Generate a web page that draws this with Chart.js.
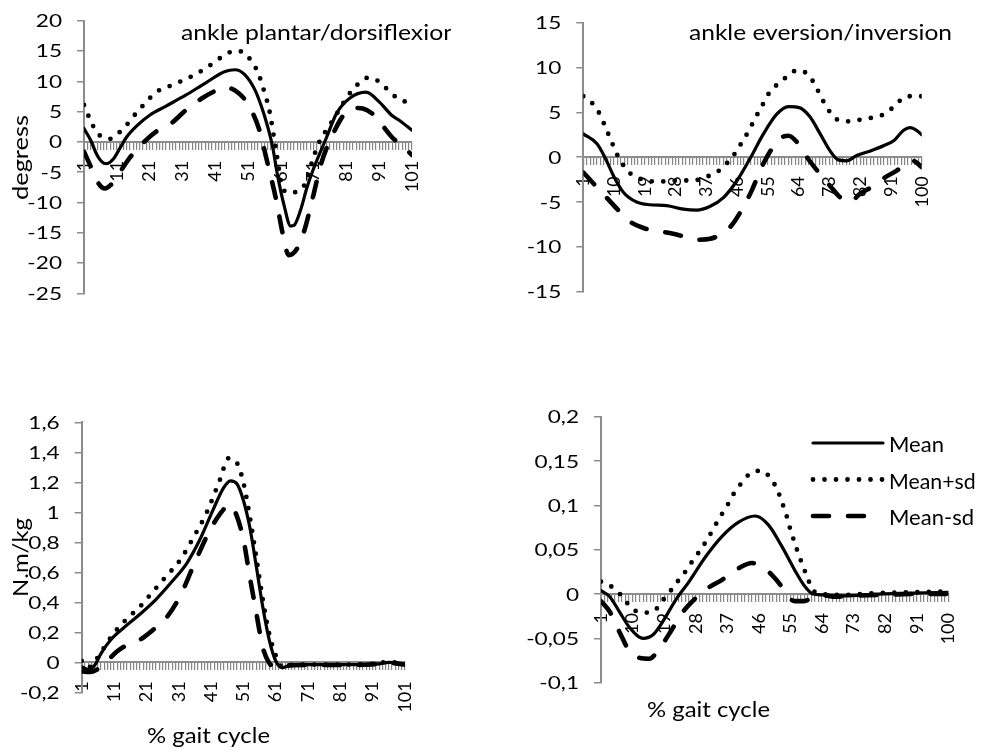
<!DOCTYPE html>
<html>
<head>
<meta charset="utf-8">
<script src="https://cdn.jsdelivr.net/npm/chart.js@4.4.1/dist/chart.umd.min.js"></script>
<style>
  html, body { margin: 0; padding: 0; background: #fff; }
  #stage { position: relative; width: 982px; height: 749px; overflow: hidden; background: #fff; }
  #stage canvas { position: absolute; }
</style>
</head>
<body>
<div id="stage">
  <canvas id="sagAngle" width="451" height="310" style="left:0px;top:0px;width:451px;height:310px"></canvas>
  <canvas id="frontAngle" width="527" height="310" style="left:455px;top:0px;width:527px;height:310px"></canvas>
  <canvas id="sagMoment" width="455" height="349" style="left:0px;top:400px;width:455px;height:349px"></canvas>
  <canvas id="frontMoment" width="527" height="354" style="left:455px;top:395px;width:527px;height:354px"></canvas>
</div>
<script>
// ---------------- data: [% gait cycle, value] ----------------
const SERIES_NAMES = ['Mean', 'Mean+sd', 'Mean-sd'];

const GAIT_LABELS_101 = [1, 11, 21, 31, 41, 51, 61, 71, 81, 91, 101];
const GAIT_LABELS_100 = [1, 10, 19, 28, 37, 46, 55, 64, 73, 82, 91, 100];

const SAG_ANGLE_TICKS = [-25, -20, -15, -10, -5, 0, 5, 10, 15, 20];
const FRONT_ANGLE_TICKS = [-15, -10, -5, 0, 5, 10, 15];
const SAG_MOMENT_TICKS = [-0.2, 0, 0.2, 0.4, 0.6, 0.8, 1, 1.2, 1.4, 1.6];
const FRONT_MOMENT_TICKS = [-0.1, -0.05, 0, 0.05, 0.1, 0.15, 0.2];

// ankle plantar/dorsiflexion (degrees)
const sagAngleMean = [[1,2.2],[3,0.3],[5,-2.2],[7,-3.5],[8,-3.6],[10,-2.8],[12,-1.0],[14,0.8],[17,2.6],[21,4.4],[26,5.9],[32,7.7],[38,9.7],[44,11.6],[47,11.9],[50,11.1],[53,8.7],[55,6.0],[57,2.5],[58.5,-0.8],[60,-5.5],[62,-10.5],[64,-13.9],[65,-13.8],[67,-11.3],[69,-7.5],[71,-4.4],[75,0.8],[78,4.7],[82,7.2],[87,8.2],[91,6.6],[95,4.3],[97,3.6],[101,1.9]];
const sagAnglePlusSd = [[1,6.1],[3,3.5],[5,1.5],[7,0.7],[9,0.5],[11,1.2],[14,2.8],[17,4.8],[19,6.0],[23,8.2],[28,9.4],[33,10.6],[38,12.1],[43,14.0],[47,15.0],[50,14.7],[52,13.3],[54,11.5],[56,8.2],[57.5,5.2],[59.5,-1.2],[61.5,-7.5],[63.5,-8.4],[66,-8.2],[68.4,-6.9],[71,-2.5],[73,0.3],[75,2.0],[78.5,5.0],[80.6,6.9],[82.6,8.4],[85,9.75],[87.7,10.6],[90.2,10.2],[92.3,9.3],[94.3,8.2],[96.6,7.2],[99.2,6.6],[101,6.4]];
const sagAngleMinusSd = [[1,-1.6],[3,-4.0],[5,-6.5],[7.4,-7.7],[9,-7.2],[11.7,-5.2],[14.7,-2.8],[18.8,-0.3],[23,1.7],[27,2.8],[32,5.2],[37,7.2],[41,8.4],[44,9.0],[48,8.1],[51,6.2],[54.5,1.9],[56.5,-2.5],[59.6,-9.6],[61.6,-15.2],[63.4,-18.7],[66,-17.6],[68.2,-14.6],[70.8,-9.1],[73.3,-3.6],[77,1.4],[81,5.0],[84,5.6],[86,5.5],[89,4.6],[92,2.7],[95,0.7],[98,-0.6],[101,-2.2]];

// ankle eversion/inversion (degrees)
const frontAngleMean = [[1,2.6],[5,1.5],[7.3,0],[10,-2.2],[12.7,-3.9],[16.6,-5.0],[20.5,-5.3],[25.4,-5.4],[30.3,-5.8],[34.2,-5.9],[38,-5.5],[42,-4.5],[46,-2.6],[50,0],[53.7,2.6],[57.6,4.8],[61,5.65],[64.4,5.5],[67.3,4.5],[70.3,2.6],[73.2,0.7],[75.6,-0.3],[78,-0.4],[81,0.2],[85,0.7],[89,1.3],[92,1.9],[94.7,3.0],[96.6,3.3],[98.5,3.0],[100,2.5]];
const frontAnglePlusSd = [[1,6.8],[3.9,5.9],[6.1,4.6],[7.5,3.3],[9,2.0],[10.5,0.6],[12.2,-0.6],[14.7,-1.8],[18.4,-2.5],[22,-2.7],[25.4,-2.7],[29.3,-2.6],[33,-2.6],[36.9,-2.2],[40.3,-1.6],[43.2,-0.6],[45.6,0.55],[47.6,1.8],[49.5,3.0],[51.2,4.3],[53.2,5.65],[54.9,6.9],[57.4,8.0],[60.3,8.9],[63.6,9.7],[66.8,9.2],[69,7.9],[70.7,6.6],[72.5,5.4],[74.8,4.3],[78.6,4.0],[82.3,4.2],[85.9,4.45],[89.6,4.9],[92.5,5.9],[95.6,6.8],[100,6.8]];
const frontAngleMinusSd = [[1,-1.7],[3.9,-2.9],[7.8,-4.5],[11.7,-6.1],[14.7,-7.2],[18.6,-7.9],[22.5,-8.2],[27.3,-8.55],[31.2,-8.9],[34.7,-9.2],[38.1,-9.1],[41.5,-8.55],[44.4,-7.6],[47.3,-5.9],[50.3,-3.7],[53.2,-1.1],[56.1,0.9],[59,2.2],[61,2.4],[63.9,1.5],[66.8,-0.2],[70.3,-1.9],[73.2,-3.2],[76.2,-4.5],[79,-5.0],[81.9,-4.1],[85.9,-3.2],[89.5,-2.2],[92.7,-1.5],[95.6,-0.6],[97.4,-0.4],[100,-1.1]];

// sagittal ankle moment (N.m/kg)
const sagMomentMean = [[1,-0.03],[3,-0.047],[5,-0.02],[7,0.06],[10,0.15],[14,0.23],[19,0.32],[24,0.42],[29,0.54],[33.5,0.66],[37.6,0.82],[41.7,1.02],[44.8,1.16],[47,1.21],[49,1.19],[51,1.08],[53,0.9],[55,0.64],[57,0.37],[59,0.15],[61,0.01],[63,-0.035],[65,-0.025],[70,-0.015],[80,-0.015],[90,-0.015],[93,-0.01],[96,0.0],[99,-0.005],[101,-0.015]];
const sagMomentPlusSd = [[1,0.01],[3,-0.035],[5,0.005],[7.7,0.09],[10.8,0.19],[15,0.29],[19,0.37],[23,0.47],[27,0.57],[31.4,0.68],[35.5,0.83],[39.7,1.0],[43.8,1.22],[46.4,1.36],[49,1.33],[51,1.2],[53,0.97],[55,0.7],[57,0.42],[59,0.19],[61.5,0.02],[63,-0.03],[65,-0.02],[70,-0.015],[80,-0.015],[90,-0.012],[96,0.002],[101,-0.012]];
const sagMomentMinusSd = [[1,-0.06],[3.6,-0.065],[5.6,-0.05],[8.7,0.005],[11.8,0.07],[15,0.115],[19,0.15],[23,0.215],[27.3,0.3],[31.4,0.44],[35.5,0.64],[39.7,0.84],[43.8,0.99],[46.9,1.05],[48.9,0.98],[51,0.82],[53,0.57],[55,0.33],[57,0.1],[59,-0.005],[61,-0.03],[63,-0.03],[65,-0.02],[70,-0.018],[80,-0.018],[90,-0.015],[96,-0.005],[101,-0.015]];

// frontal ankle moment (N.m/kg)
const frontMomentMean = [[1,0.004],[3.5,-0.003],[6.4,-0.021],[9.2,-0.038],[13,-0.05],[15.8,-0.046],[18.6,-0.031],[22.4,-0.006],[26.1,0.014],[30.8,0.042],[35.5,0.065],[40.2,0.081],[44.9,0.088],[48.7,0.078],[52.5,0.054],[56.2,0.027],[59,0.009],[61.4,0.0],[64,-0.001],[70,-0.002],[80,0.0],[90,0.001],[100,0.002]];
const frontMomentPlusSd = [[1,0.014],[4.5,0.007],[7.1,-0.003],[9.5,-0.015],[12.5,-0.021],[15.8,-0.02],[18.4,-0.008],[20.7,0.003],[22.8,0.014],[25.2,0.026],[27.2,0.038],[29.4,0.05],[31.5,0.063],[33.2,0.075],[35.1,0.088],[37,0.1],[38.8,0.113],[41,0.125],[43.5,0.136],[46.8,0.139],[49.6,0.129],[51.3,0.117],[52.7,0.102],[53.9,0.088],[54.8,0.075],[56,0.06],[57.2,0.046],[58.6,0.031],[59.8,0.019],[61.1,0.006],[63.7,0.0],[70,-0.001],[80,0.001],[90,0.002],[100,0.003]];
const frontMomentMinusSd = [[1,-0.008],[3.5,-0.02],[6.4,-0.044],[9.2,-0.065],[12,-0.072],[14.8,-0.073],[17.7,-0.061],[20.9,-0.042],[23.8,-0.023],[27.1,-0.008],[30.8,0.005],[35.5,0.016],[40.2,0.029],[44,0.035],[46.8,0.031],[49.6,0.022],[52,0.011],[54.3,-0.003],[56.2,-0.008],[58.6,-0.008],[61,-0.005],[63.7,-0.001],[67.5,-0.003],[73,-0.002],[80,-0.001],[90,0.0],[100,0.0]];

// ---------------- styling ----------------
const FONT = 'Lato';
const AXIS_GREY = '#8c8c8c';
const TICK_GREY = '#858585';

const LINE_STYLES = [
  { borderWidth: 3.2, borderDash: [] },
  { borderWidth: 4.8, borderDash: [0, 11.5] },
  { borderWidth: 4.6, borderDash: [16, 19] }
];

const fmt = v => String(v).replace('.', ',');

// text drawn with a horizontal stretch (either a fixed factor or a target width)
function wideText(ctx, str, x, y, o) {
  ctx.save();
  ctx.font = o.font;
  ctx.fillStyle = '#000';
  ctx.textAlign = o.align || 'left';
  ctx.textBaseline = o.baseline || 'alphabetic';
  ctx.translate(x, y);
  if (o.rotate) ctx.rotate(o.rotate);
  let sx = o.stretch || 1;
  if (o.width) sx = o.width / ctx.measureText(str).width;
  ctx.scale(sx, 1);
  ctx.fillText(str, 0, 0);
  ctx.restore();
}

// value labels of the vertical axis + free text items + optional line key
function panelDecor(cfg) {
  return {
    id: 'panelDecor',
    afterDraw(chart) {
      const ctx = chart.ctx;
      const ys = chart.scales.y;
      cfg.yTicks.forEach(v => {
        wideText(ctx, fmt(v), ys.right - 22, ys.getPixelForValue(v) + 1,
          { font: '17px ' + FONT, align: 'right', baseline: 'middle', stretch: 1.33 });
      });
      cfg.texts.forEach(t => wideText(ctx, t.text, t.x, t.y, t));
      if (cfg.key) {
        const k = cfg.key;
        chart.data.datasets.forEach((ds, i) => {
          const yy = k.y + i * k.dy;
          ctx.save();
          ctx.strokeStyle = ds.borderColor;
          ctx.lineWidth = ds.borderWidth;
          ctx.lineCap = 'round';
          ctx.setLineDash(ds.borderDash);
          ctx.beginPath();
          ctx.moveTo(k.x, yy);
          ctx.lineTo(k.x + k.len, yy);
          ctx.stroke();
          ctx.restore();
          wideText(ctx, ds.label, k.x + k.len + 6, yy + 9,
            { font: '21px ' + FONT, width: k.widths[i] });
        });
      }
    }
  };
}

function makePanel(id, g, spec) {
  return new Chart(document.getElementById(id), {
    type: 'line',
    data: {
      datasets: spec.series.map((pts, i) => ({
        label: SERIES_NAMES[i],
        data: pts.map(([x, y]) => ({ x, y })),
        borderColor: '#000',
        borderWidth: LINE_STYLES[i].borderWidth,
        borderDash: LINE_STYLES[i].borderDash,
        borderCapStyle: 'round',
        borderJoinStyle: 'round',
        pointRadius: 0,
        fill: false,
        cubicInterpolationMode: 'monotone'
      }))
    },
    options: {
      responsive: false,
      animation: false,
      devicePixelRatio: 1,
      events: [],
      layout: { padding: { left: 0, top: g.top, right: g.right, bottom: g.bottom } },
      plugins: { legend: { display: false }, tooltip: { enabled: false } },
      scales: {
        x: {
          type: 'linear',
          position: { y: 0 },
          min: 1,
          max: spec.xLabels[spec.xLabels.length - 1],
          ticks: {
            stepSize: 1,
            autoSkip: false,
            minRotation: 90,
            maxRotation: 90,
            padding: 12,
            color: '#000',
            font: { family: FONT, size: 18 },
            callback: v => (spec.xLabels.includes(v) ? String(v) : '')
          },
          grid: { drawOnChartArea: false, tickLength: 7, color: TICK_GREY, lineWidth: 1.2 },
          border: { color: AXIS_GREY, width: 2 }
        },
        y: {
          type: 'linear',
          min: spec.yTicks[0],
          max: spec.yTicks[spec.yTicks.length - 1],
          afterFit: s => { s.width = g.axisX; },
          ticks: {
            stepSize: spec.yTicks[1] - spec.yTicks[0],
            color: 'rgba(0,0,0,0)',
            font: { family: FONT, size: 17 }
          },
          grid: { drawOnChartArea: false, tickLength: 7, color: AXIS_GREY, lineWidth: 1.5 },
          border: { color: AXIS_GREY, width: 2 }
        }
      }
    },
    plugins: [panelDecor({ yTicks: spec.yTicks, texts: spec.texts, key: spec.key })]
  });
}

const ROT = -Math.PI / 2;

makePanel('sagAngle',
  { axisX: 84, top: 20.7, right: 39, bottom: 16.7 },
  {
    series: [sagAngleMean, sagAnglePlusSd, sagAngleMinusSd],
    xLabels: GAIT_LABELS_101,
    yTicks: SAG_ANGLE_TICKS,
    texts: [
      { text: 'ankle plantar/dorsiflexion', x: 181, y: 40, font: '21px ' + FONT, width: 276 },
      { text: 'degress', x: 28, y: 157.5, rotate: ROT, align: 'center', font: '21px ' + FONT, width: 85 }
    ]
  });

makePanel('frontAngle',
  { axisX: 128.3, top: 22.7, right: 60.3, bottom: 18.3 },
  {
    series: [frontAngleMean, frontAnglePlusSd, frontAngleMinusSd],
    xLabels: GAIT_LABELS_100,
    yTicks: FRONT_ANGLE_TICKS,
    texts: [
      { text: 'ankle eversion/inversion', x: 234, y: 40, font: '21px ' + FONT, width: 263 }
    ]
  });

makePanel('sagMoment',
  { axisX: 81.7, top: 22.3, right: 50, bottom: 56.7 },
  {
    series: [sagMomentMean, sagMomentPlusSd, sagMomentMinusSd],
    xLabels: GAIT_LABELS_101,
    yTicks: SAG_MOMENT_TICKS,
    texts: [
      { text: 'N.m/kg', x: 28, y: 157.5, rotate: ROT, align: 'center', font: '21px ' + FONT, width: 79 },
      { text: '% gait cycle', x: 208.5, y: 343, align: 'center', font: '21px ' + FONT, width: 123 }
    ]
  });

makePanel('frontMoment',
  { axisX: 146, top: 21.7, right: 30.3, bottom: 66.3 },
  {
    series: [frontMomentMean, frontMomentPlusSd, frontMomentMinusSd],
    xLabels: GAIT_LABELS_100,
    yTicks: FRONT_MOMENT_TICKS,
    texts: [
      { text: '% gait cycle', x: 253.5, y: 322, align: 'center', font: '21px ' + FONT, width: 123 }
    ],
    key: { x: 358, y: 48, dy: 36.5, len: 70, widths: [55, 86.7, 85] }
  });
</script>
</body>
</html>
